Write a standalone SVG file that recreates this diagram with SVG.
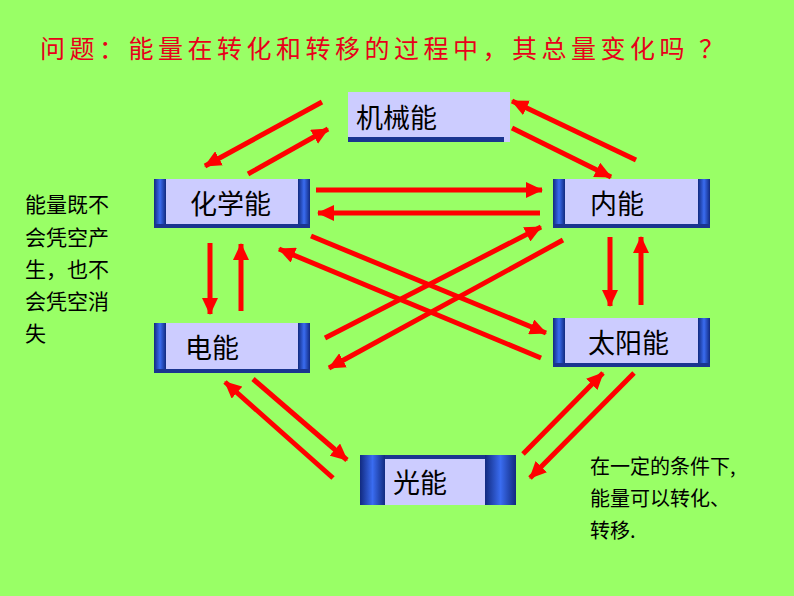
<svg xmlns="http://www.w3.org/2000/svg" width="794" height="596" viewBox="0 0 794 596">
<defs>
<linearGradient id="side" x1="0" y1="0" x2="1" y2="0">
<stop offset="0" stop-color="#112a80"/><stop offset="0.5" stop-color="#3a6cf0"/><stop offset="1" stop-color="#112a80"/>
</linearGradient>
<marker id="ah" markerUnits="userSpaceOnUse" markerWidth="18" markerHeight="16" refX="16" refY="8" orient="auto">
<path d="M0,0 L17,8 L0,16 Z" fill="#ff0000"/>
</marker>
<style>
.t{font-family:"Noto Sans CJK SC","Liberation Sans",sans-serif;}
.n{font-size:27px;fill:#000}
.side{fill:url(#side)}
.bar{fill:#1a3590}
.in{fill:#ccccff}
.a{stroke:#ff0000;stroke-width:5;fill:none;marker-end:url(#ah)}
</style>
</defs>
<rect width="794" height="596" fill="#99ff66"/>
<text class="t" x="40" y="58" font-size="25" letter-spacing="4.5" fill="#e8001a">问题：能量在转化和转移的过程中，其总量变化吗 ？</text>
<g id="jixieneng"><rect x="348" y="92" width="162" height="50" class="in"/><rect x="348" y="137" width="156" height="5" class="bar"/><text class="t n" x="356" y="128">机械能</text></g>
<g id="huaxueneng"><rect x="154" y="179" width="156" height="49" class="bar"/><rect x="154" y="179" width="12" height="45" class="side"/><rect x="298" y="179" width="12" height="45" class="side"/><rect x="166" y="179" width="132" height="45" class="in"/><text class="t n" x="190" y="214">化学能</text></g>
<g id="neineng"><rect x="553" y="179" width="157" height="49" class="bar"/><rect x="553" y="179" width="12" height="45" class="side"/><rect x="698" y="179" width="12" height="45" class="side"/><rect x="565" y="179" width="133" height="45" class="in"/><text class="t n" x="590" y="214">内能</text></g>
<g id="dianneng"><rect x="154" y="323" width="156" height="50" class="bar"/><rect x="154" y="323" width="12" height="46" class="side"/><rect x="298" y="323" width="12" height="46" class="side"/><rect x="166" y="323" width="132" height="46" class="in"/><text class="t n" x="185" y="358">电能</text></g>
<g id="taiyangneng"><rect x="553" y="318" width="157" height="49" class="bar"/><rect x="553" y="318" width="12" height="45" class="side"/><rect x="698" y="318" width="12" height="45" class="side"/><rect x="565" y="318" width="133" height="45" class="in"/><text class="t n" x="588" y="353">太阳能</text></g>
<g id="guangneng"><rect x="360" y="455" width="156" height="50" class="bar"/><rect x="360" y="455" width="25" height="50" class="side"/><rect x="485" y="455" width="31" height="50" class="side"/><rect x="385" y="459" width="100" height="46" class="in"/><text class="t n" x="393" y="493">光能</text></g>
<g id="connectors">
<line class="a" x1="322" y1="102" x2="205" y2="166"/>
<line class="a" x1="248" y1="174" x2="328" y2="129"/>
<line class="a" x1="512" y1="128" x2="611" y2="177"/>
<line class="a" x1="636" y1="160" x2="512" y2="101"/>
<line class="a" x1="316" y1="190" x2="542" y2="190"/>
<line class="a" x1="540" y1="213" x2="318" y2="213"/>
<line class="a" x1="210" y1="243" x2="210" y2="314"/>
<line class="a" x1="241" y1="311" x2="241" y2="244"/>
<line class="a" x1="610" y1="237" x2="610" y2="306"/>
<line class="a" x1="641" y1="305" x2="641" y2="237"/>
<line class="a" x1="311" y1="236" x2="546" y2="333"/>
<line class="a" x1="541" y1="358" x2="279" y2="249"/>
<line class="a" x1="325" y1="338" x2="541" y2="227"/>
<line class="a" x1="563" y1="240" x2="329" y2="368"/>
<line class="a" x1="333" y1="478" x2="225" y2="382"/>
<line class="a" x1="253" y1="379" x2="347" y2="460"/>
<line class="a" x1="523" y1="454" x2="603" y2="373"/>
<line class="a" x1="634" y1="373" x2="530" y2="478"/>
</g>
<g class="t" font-size="21" fill="#000">
<text x="25" y="212">能量既不</text>
<text x="25" y="245">会凭空产</text>
<text x="25" y="277">生，也不</text>
<text x="25" y="309">会凭空消</text>
<text x="25" y="341">失</text>
</g>
<g class="t" font-size="20" fill="#000">
<text x="590" y="474">在一定的条件下,</text>
<text x="590" y="506">能量可以转化、</text>
<text x="590" y="538">转移.</text>
</g>
</svg>
